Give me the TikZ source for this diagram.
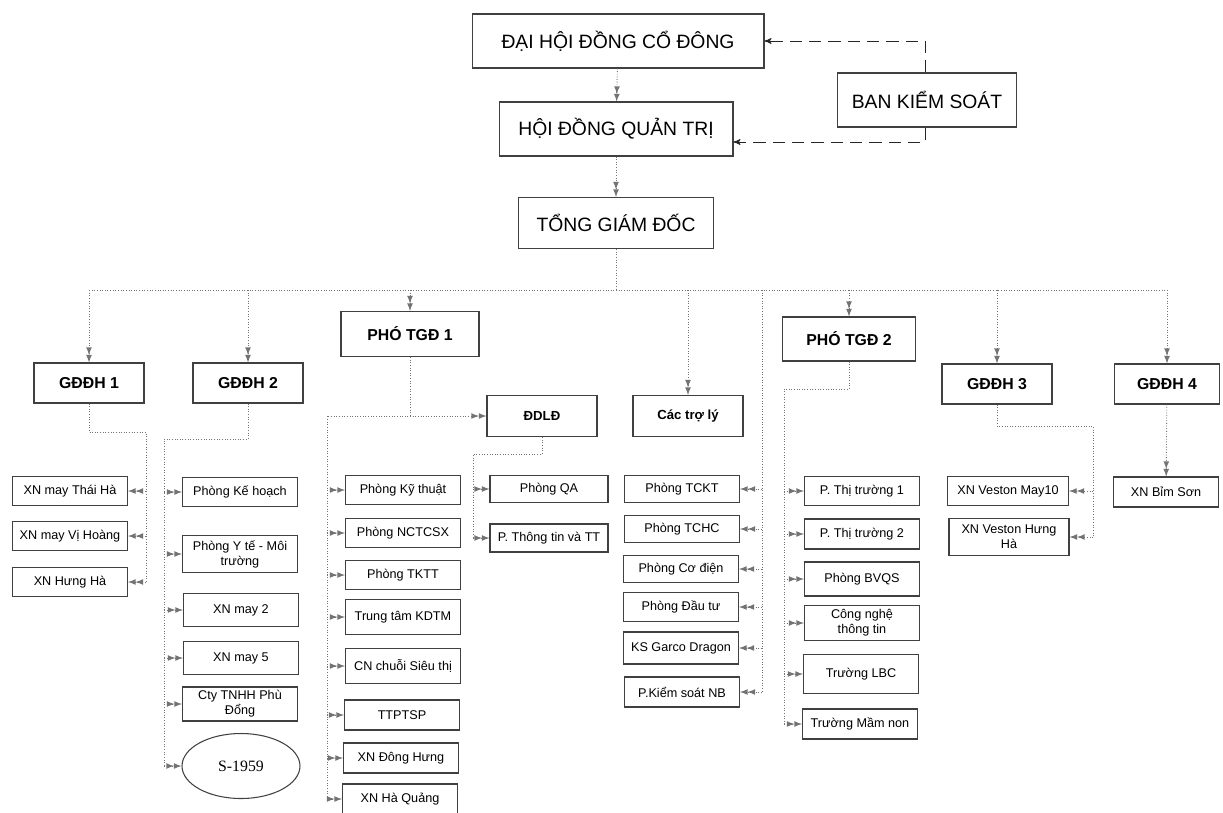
\documentclass[tikz,border=0pt]{standalone}
\usepackage{fontspec}
\setmainfont{Liberation Sans}
\newfontfamily\ovalfont{Liberation Serif}
\usetikzlibrary{arrows,shapes.geometric}

\begin{document}
\begin{tikzpicture}[x=0.02cm,y=-0.02cm,>=latex,
    every node/.style={draw=black!75,line width=0.6pt,align=center,inner sep=1pt},
    topbox/.style={font=\fontsize{11}{13}\selectfont,minimum height=1.08cm},
    headbox/.style={font=\bfseries\fontsize{9}{11}\selectfont,minimum width=2.2cm,minimum height=0.8cm},
    smallhead/.style={font=\bfseries\fontsize{7.5}{9}\selectfont,minimum width=2.2cm,minimum height=0.82cm},
    unit/.style={font=\fontsize{7.2}{8.6}\selectfont,minimum width=2.3cm,minimum height=0.58cm},
    link/.style={draw=black!55,densely dotted,line width=0.5pt},
    ctrl/.style={draw=black!85,dash pattern=on 7pt off 4pt,line width=0.5pt,-stealth'}]
  \useasboundingbox (0,0) rectangle (1223,812);
  % top levels
  \node[topbox,minimum width=5.84cm] (dhdcd) at (618,41) {ĐẠI HỘI ĐỒNG CỔ ĐÔNG};
  \node[topbox,minimum width=4.68cm] (hdqt) at (616,129) {HỘI ĐỒNG QUẢN TRỊ};
  \node[topbox,minimum width=3.9cm,minimum height=1.02cm] (tgd) at (616,223) {TỔNG GIÁM ĐỐC};
  \node[topbox,minimum width=3.58cm] (bks) at (927,100) {BAN KIỂM SOÁT};
  \draw[link,->>] (dhdcd) -- (hdqt);
  \draw[link,->>] (hdqt) -- (tgd);
  \draw[ctrl] (bks.north -| 925,0) |- (dhdcd.east);
  \draw[ctrl] (bks.south -| 925,0) |- ([yshift=-0.26cm]hdqt.east);
  % second level
  \node[headbox] (g1) at (89,383) {GĐĐH 1};
  \node[headbox] (g2) at (248,383) {GĐĐH 2};
  \node[headbox,minimum width=2.76cm,minimum height=0.9cm] (p1) at (410,334) {PHÓ TGĐ 1};
  \node[smallhead] (ddld) at (542,416) {ĐDLĐ};
  \node[smallhead] (trol) at (688,416) {Các trợ lý};
  \node[headbox,minimum width=2.66cm,minimum height=0.88cm] (p2) at (849,339) {PHÓ TGĐ 2};
  \node[headbox] (g3) at (997,384) {GĐĐH 3};
  \node[headbox,minimum width=2.1cm] (g4) at (1167,384) {GĐĐH 4};
  \coordinate (bus) at (616,290);
  \coordinate (sv) at (762,290);
  \draw[link] (tgd) -- (bus);
  \draw[link] (g1.north |- bus) -- (g4.north |- bus);
  \draw[link,->>] (g1.north |- bus) -- (g1);
  \draw[link,->>] (g2.north |- bus) -- (g2);
  \draw[link,->>] (p1.north |- bus) -- (p1);
  \draw[link,->>] (trol.north |- bus) -- (trol);
  \draw[link,->>] (p2.north |- bus) -- (p2);
  \draw[link,->>] (g3.north |- bus) -- (g3);
  \draw[link,->>] (g4.north |- bus) -- (g4);
  % GDDH 1
  \node[unit] (tha) at (70,491) {XN may Thái Hà};
  \node[unit] (vho) at (70,536) {XN may Vị Hoàng};
  \node[unit] (hha) at (70,582) {XN Hưng Hà};
  \coordinate (g1v) at (146,432);
  \draw[link] (g1) |- (g1v) -- (g1v |- hha);
  \draw[link,->>] (g1v |- tha) -- (tha);
  \draw[link,->>] (g1v |- vho) -- (vho);
  \draw[link,->>] (g1v |- hha) -- (hha);
  % GDDH 2
  \node[unit] (kh) at (240,492) {Phòng Kế hoạch};
  \node[unit,minimum height=0.74cm] (yte) at (240,554) {Phòng Y tế - Môi\\trường};
  \node[unit,minimum height=0.66cm] (xn2) at (241,610) {XN may 2};
  \node[unit,minimum height=0.66cm] (xn5) at (241,658) {XN may 5};
  \node[unit,minimum height=0.68cm] (cty) at (240,704) {Cty TNHH Phù\\Đổng};
  \node[ellipse,minimum width=2.36cm,minimum height=1.3cm,font=\ovalfont\fontsize{9}{11}\selectfont] (s59) at (241,766) {S-1959};
  \coordinate (g2v) at (164,439);
  \draw[link] (g2) |- (g2v) -- (g2v |- s59);
  \draw[link,->>] (g2v |- kh) -- (kh);
  \draw[link,->>] (g2v |- yte) -- (yte);
  \draw[link,->>] (g2v |- xn2) -- (xn2);
  \draw[link,->>] (g2v |- xn5) -- (xn5);
  \draw[link,->>] (g2v |- cty) -- (cty);
  \draw[link,->>] (g2v |- s59) -- (s59);
  % PHO TGD 1
  \node[unit] (kt) at (403,490) {Phòng Kỹ thuật};
  \node[unit] (nc) at (403,533) {Phòng NCTCSX};
  \node[unit] (tk) at (403,575) {Phòng TKTT};
  \node[unit,minimum height=0.7cm] (kd) at (403,617) {Trung tâm KDTM};
  \node[unit,minimum height=0.7cm] (cn) at (403,666) {CN chuỗi Siêu thị};
  \node[unit,minimum height=0.6cm] (tt) at (402,715) {TTPTSP};
  \node[unit,minimum height=0.6cm] (dh) at (401,758) {XN Đông Hưng};
  \node[unit,minimum height=0.6cm] (hq) at (400,799) {XN Hà Quảng};
  \coordinate (p1v) at (327,416);
  \draw[link] (p1) |- (p1v) -- (p1v |- hq);
  \draw[link,->>] (p1.south |- ddld) -- (ddld);
  \draw[link,->>] (p1v |- kt) -- (kt);
  \draw[link,->>] (p1v |- nc) -- (nc);
  \draw[link,->>] (p1v |- tk) -- (tk);
  \draw[link,->>] (p1v |- kd) -- (kd);
  \draw[link,->>] (p1v |- cn) -- (cn);
  \draw[link,->>] (p1v |- tt) -- (tt);
  \draw[link,->>] (p1v |- dh) -- (dh);
  \draw[link,->>] (p1v |- hq) -- (hq);
  % DDLD
  \node[unit,minimum width=2.36cm,minimum height=0.55cm] (qa) at (549,489) {Phòng QA};
  \node[unit,minimum width=2.36cm,minimum height=0.56cm] (ttt) at (549,538) {P. Thông tin và TT};
  \coordinate (dv) at (473,454);
  \draw[link] (ddld) |- (dv) -- (dv |- ttt);
  \draw[link,->>] (dv |- qa) -- (qa);
  \draw[link,->>] (dv |- ttt) -- (ttt);
  % phong ban
  \node[unit,minimum height=0.55cm] (tckt) at (682,489) {Phòng TCKT};
  \node[unit,minimum height=0.55cm] (tchc) at (682,529) {Phòng TCHC};
  \node[unit,minimum height=0.55cm] (cd) at (681,569) {Phòng Cơ điện};
  \node[unit] (dt) at (681,607) {Phòng Đầu tư};
  \node[unit,minimum height=0.64cm] (ks) at (681,648) {KS Garco Dragon};
  \node[unit,minimum height=0.6cm] (ksnb) at (682,692) {P.Kiểm soát NB};
  \draw[link] (sv) -- (sv |- ksnb);
  \draw[link,->>] (sv |- tckt) -- (tckt);
  \draw[link,->>] (sv |- tchc) -- (tchc);
  \draw[link,->>] (sv |- cd) -- (cd);
  \draw[link,->>] (sv |- dt) -- (dt);
  \draw[link,->>] (sv |- ks) -- (ks);
  \draw[link,->>] (sv |- ksnb) -- (ksnb);
  % PHO TGD 2
  \node[unit] (tt1) at (862,491) {P. Thị trường 1};
  \node[unit,minimum height=0.6cm] (tt2) at (862,534) {P. Thị trường 2};
  \node[unit,minimum height=0.68cm] (bvqs) at (862,579) {Phòng BVQS};
  \node[unit,minimum height=0.7cm] (cntt) at (862,623) {Công nghệ\\thông tin};
  \node[unit,minimum height=0.78cm] (lbc) at (861,674) {Trường LBC};
  \node[unit,minimum height=0.6cm] (mn) at (860,724) {Trường Mầm non};
  \coordinate (p2v) at (784,389);
  \draw[link] (p2) |- (p2v) -- (p2v |- mn);
  \draw[link,->>] (p2v |- tt1) -- (tt1);
  \draw[link,->>] (p2v |- tt2) -- (tt2);
  \draw[link,->>] (p2v |- bvqs) -- (bvqs);
  \draw[link,->>] (p2v |- cntt) -- (cntt);
  \draw[link,->>] (p2v |- lbc) -- (lbc);
  \draw[link,->>] (p2v |- mn) -- (mn);
  % GDDH 3 and 4
  \node[unit,minimum width=2.42cm] (v10) at (1008,491) {XN Veston May10};
  \node[unit,minimum width=2.4cm,minimum height=0.74cm] (vhh) at (1009,537) {XN Veston Hưng\\Hà};
  \coordinate (g3v) at (1093,426);
  \draw[link] (g3) |- (g3v) -- (g3v |- vhh);
  \draw[link,->>] (g3v |- v10) -- (v10);
  \draw[link,->>] (g3v |- vhh) -- (vhh);
  \node[unit,minimum width=2.1cm,minimum height=0.6cm] (bs) at (1166,492) {XN Bỉm Sơn};
  \draw[link,->>] (g4) -- (bs);
\end{tikzpicture}
\end{document}
